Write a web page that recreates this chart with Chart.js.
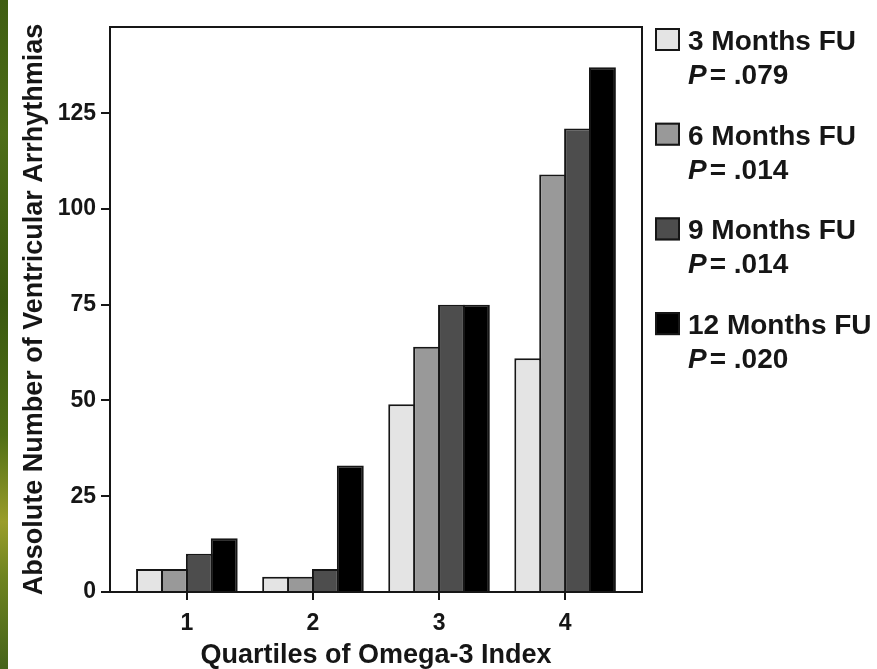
<!DOCTYPE html>
<html>
<head>
<meta charset="utf-8">
<script src="https://cdn.jsdelivr.net/npm/chart.js@4/dist/chart.umd.min.js"></script>
<style>
  html, body { margin: 0; padding: 0; background: #fff; }
  #wrap { position: relative; width: 877px; height: 669px; overflow: hidden; background: #fff; }
  #wrap canvas { position: absolute; left: 0; top: 0; }
  #edge {
    position: absolute; left: 0; top: 0; width: 8px; height: 669px;
    background: linear-gradient(180deg, #3f5d12 0%, #4d6d18 20%, #3a5810 45%, #4f6e16 65%, #9a9d2a 78%, #6f8420 86%, #45631a 100%);
  }
</style>
</head>
<body>
<div id="wrap">
  <canvas id="chart" width="877" height="669"></canvas>
  <div id="edge"></div>
</div>
<script>
// Quartiles of the Omega-3 Index (x) and counts of ventricular arrhythmias per follow-up
const quartiles = [1, 2, 3, 4];
const seriesNames = ['3 Months FU', '6 Months FU', '9 Months FU', '12 Months FU'];
const pValues = ['.079', '.014', '.014', '.020'];
const months3 = [6, 4, 49, 61];
const months6 = [6, 4, 64, 109];
const months9 = [10, 6, 75, 121];
const months12 = [14, 33, 75, 137];
const yTicks = [0, 25, 50, 75, 100, 125];
const xTitle = 'Quartiles of Omega-3 Index';
const yTitle = 'Absolute Number of Ventricular Arrhythmias';

const fills = ['#e4e4e4', '#999999', '#4d4d4d', '#000000'];
const ink = '#161616';
const FONT = '"Liberation Sans", Arial, Helvetica, sans-serif';

const seriesValues = [months3, months6, months9, months12];
const datasets = seriesValues.map((vals, i) => ({
  label: seriesNames[i],
  data: quartiles.map((q, k) => ({ x: q, y: vals[k] })),
  backgroundColor: fills[i],
  borderColor: ink,
  borderWidth: 2,
  borderSkipped: 'start',
  categoryPercentage: 0.79,
  barPercentage: 1.08
}));

// Top and right sides of the plot box
const frameBox = {
  id: 'frameBox',
  afterDatasetsDraw(chart) {
    const { ctx, chartArea: a } = chart;
    ctx.save();
    ctx.strokeStyle = ink;
    ctx.lineWidth = 2;
    ctx.beginPath();
    ctx.moveTo(a.left - 1, a.top);
    ctx.lineTo(a.right, a.top);
    ctx.lineTo(a.right, a.bottom + 1);
    ctx.stroke();
    ctx.restore();
  }
};

// Legend on the right: swatch, series name and P value on a second line
const sideLegend = {
  id: 'sideLegend',
  afterDraw(chart) {
    const ctx = chart.ctx;
    ctx.save();
    ctx.textAlign = 'left';
    ctx.textBaseline = 'alphabetic';
    chart.data.datasets.forEach((ds, i) => {
      const base = 50 + i * 94.7;
      ctx.fillStyle = ds.backgroundColor;
      ctx.fillRect(655, base - 22, 25, 23);
      ctx.strokeStyle = ink;
      ctx.lineWidth = 2;
      ctx.strokeRect(656, base - 21, 23, 21);
      ctx.fillStyle = ink;
      ctx.font = 'bold 28px ' + FONT;
      ctx.fillText(ds.label, 688, base);
      const pb = base + 34;
      ctx.font = 'italic bold 28px ' + FONT;
      ctx.fillText('P', 688, pb);
      const w = ctx.measureText('P').width;
      ctx.font = 'bold 28px ' + FONT;
      ctx.fillText('= ' + pValues[i], 688 + w + 3, pb);
    });
    ctx.restore();
  }
};

new Chart(document.getElementById('chart'), {
  type: 'bar',
  data: { datasets },
  plugins: [frameBox, sideLegend],
  options: {
    responsive: false,
    animation: false,
    layout: { padding: { left: 0, top: 27, right: 235, bottom: 0 } },
    plugins: { legend: { display: false }, tooltip: { enabled: false } },
    scales: {
      x: {
        type: 'linear',
        min: 0.39,
        max: 4.61,
        offset: false,
        afterBuildTicks: (s) => { s.ticks = quartiles.map(v => ({ value: v })); },
        afterFit: (s) => { s.height = 77; },
        grid: { offset: false, drawOnChartArea: false, drawTicks: true, tickLength: 8, color: ink, lineWidth: 2 },
        border: { display: true, color: ink, width: 2, z: 1 },
        ticks: { color: ink, font: { family: FONT, size: 23, weight: 'bold' }, padding: 10, maxRotation: 0 },
        title: { display: true, text: xTitle, color: ink, font: { family: FONT, size: 27, weight: 'bold', lineHeight: 1 }, padding: { top: 0, bottom: 0 } }
      },
      y: {
        type: 'linear',
        min: 0,
        max: 147.5,
        afterBuildTicks: (s) => { s.ticks = yTicks.map(v => ({ value: v })); },
        afterFit: (s) => { s.width = 110; },
        grid: { drawOnChartArea: false, drawTicks: true, tickLength: 9, color: ink, lineWidth: 2 },
        border: { display: true, color: ink, width: 2 },
        ticks: { color: ink, font: { family: FONT, size: 23, weight: 'bold' }, padding: 5 },
        title: { display: true, text: yTitle, color: ink, font: { family: FONT, size: 27, weight: 'bold' }, padding: { top: 18, bottom: 0 } }
      }
    }
  }
});
</script>
</body>
</html>
